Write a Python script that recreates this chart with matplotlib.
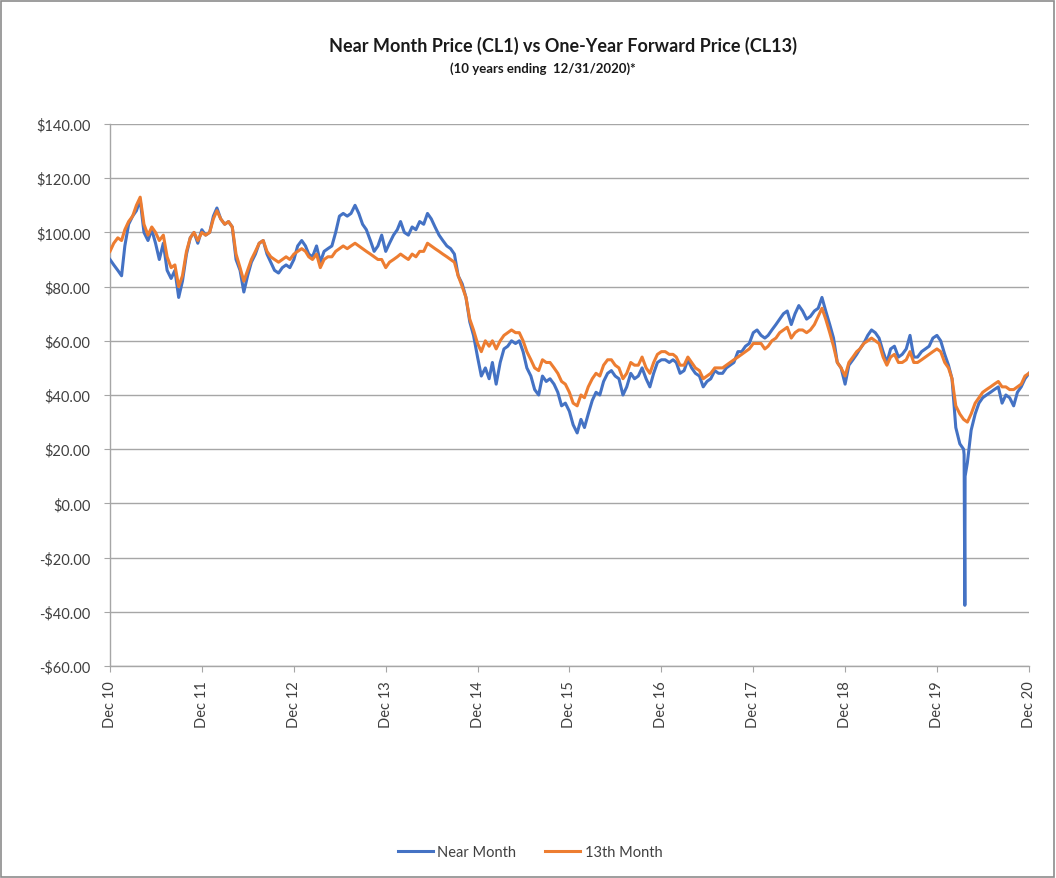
import matplotlib
matplotlib.use("Agg")
import matplotlib.pyplot as plt
from matplotlib.patches import Rectangle
from matplotlib.ticker import FuncFormatter
import pandas as pd

# ---------------- data ----------------
title = "Near Month Price (CL1) vs One-Year Forward Price (CL13)"
subtitle = "(10 years ending  12/31/2020)*"
series_names = ["Near Month", "13th Month"]
start_date = "2010-12-31"
end_date = "2020-12-31"
tick_years = list(range(2010, 2021))
y_ticks = list(range(-60, 141, 20))

# semi-monthly readings (15th and month end), first value = 12/31/2010
near_2010 = [90]
near_2011 = [88, 86, 84, 95, 103, 106, 108, 112, 100, 97, 101, 96, 90, 96, 86, 83, 86, 76, 82, 92, 98, 100, 96, 101]
near_2012 = [99, 100, 106, 109, 105, 103, 104, 102, 90, 86, 78, 84, 89, 92, 96, 97, 92, 89, 86, 85, 87, 88, 87, 90]
near_2013 = [95, 97, 95, 92, 91, 95, 89, 93, 94, 95, 100, 106, 107, 106, 107, 110, 107, 103, 101, 97, 93, 95, 99, 93]
near_2014 = [96, 99, 101, 104, 100, 99, 102, 101, 104, 103, 107, 105, 102, 99, 97, 95, 94, 92, 84, 81, 76, 67, 62, 54]
near_2015 = [47, 50, 46, 52, 44, 52, 57, 58, 60, 59, 60, 56, 50, 47, 42, 40, 47, 45, 46, 44, 41, 36, 37, 34]
near_2016 = [29, 26, 31, 28, 33, 38, 41, 40, 45, 48, 49, 47, 46, 40, 43, 48, 46, 47, 50, 46, 43, 48, 52, 53]
near_2017 = [53, 52, 53, 52, 48, 49, 53, 50, 48, 47, 43, 45, 46, 49, 48, 48, 50, 51, 52, 56, 56, 58, 59, 63]
near_2018 = [64, 62, 61, 62, 64, 66, 68, 70, 71, 66, 70, 73, 71, 68, 69, 71, 72, 76, 71, 66, 61, 52, 50, 44]
near_2019 = [51, 53, 55, 57, 59, 62, 64, 63, 61, 56, 52, 57, 58, 54, 55, 57, 62, 54, 54, 56, 57, 58, 61, 62]
near_2020 = [60, 55, 51, 46, 28, 22, 20, 15, 27, 33, 37, 39, 40, 41, 42, 43, 37, 40, 39, 36, 41, 43, 46, 48]

# April 2020 negative-price episode (daily readings)
spike_dates = ["2020-04-17", "2020-04-20", "2020-04-21"]
spike_near = [18, -37.6, 10]

m13_2010 = [93]
m13_2011 = [96, 98, 97, 101, 104, 106, 110, 113, 103, 99, 102, 100, 97, 99, 91, 87, 88, 80, 84, 93, 98, 100, 97, 100]
m13_2012 = [99, 100, 105, 108, 105, 103, 104, 102, 92, 87, 82, 86, 90, 93, 96, 97, 93, 91, 90, 89, 90, 91, 90, 92]
m13_2013 = [93, 94, 93, 91, 90, 92, 87, 90, 91, 91, 93, 94, 95, 94, 95, 96, 95, 94, 93, 92, 91, 90, 90, 87]
m13_2014 = [89, 90, 91, 92, 91, 90, 92, 91, 93, 93, 96, 95, 94, 93, 92, 91, 90, 89, 84, 80, 76, 68, 64, 59]
m13_2015 = [56, 60, 58, 60, 57, 60, 62, 63, 64, 63, 63, 60, 56, 53, 50, 49, 53, 52, 52, 50, 48, 45, 44, 41]
m13_2016 = [37, 36, 40, 39, 43, 46, 48, 47, 51, 53, 53, 51, 50, 46, 48, 52, 51, 51, 54, 50, 48, 52, 55, 56]
m13_2017 = [56, 55, 55, 54, 51, 51, 54, 52, 50, 49, 46, 47, 48, 50, 50, 50, 51, 52, 53, 54, 55, 56, 57, 59]
m13_2018 = [59, 59, 57, 58, 60, 61, 63, 64, 65, 61, 63, 64, 64, 63, 64, 66, 69, 72, 68, 63, 58, 52, 50, 47]
m13_2019 = [52, 54, 56, 57, 59, 60, 61, 60, 59, 54, 51, 54, 55, 52, 52, 53, 56, 52, 52, 53, 54, 55, 56, 57]
m13_2020 = [56, 52, 50, 46, 36, 33, 31, 30, 33, 37, 39, 41, 42, 43, 44, 45, 43, 43, 42, 42, 43, 44, 47, 48]

# ---------------- assemble ----------------
try:
    dates = pd.date_range(start_date, end_date, freq="SME")
except ValueError:
    dates = pd.date_range(start_date, end_date, freq="SM")

near_vals = (near_2010 + near_2011 + near_2012 + near_2013 + near_2014 + near_2015
             + near_2016 + near_2017 + near_2018 + near_2019 + near_2020)
m13_vals = (m13_2010 + m13_2011 + m13_2012 + m13_2013 + m13_2014 + m13_2015
            + m13_2016 + m13_2017 + m13_2018 + m13_2019 + m13_2020)

near = pd.Series(near_vals, index=dates)
near = pd.concat([near, pd.Series(spike_near, index=pd.to_datetime(spike_dates))]).sort_index()
m13 = pd.Series(m13_vals, index=dates)

# ---------------- figure ----------------
plt.rcParams["font.family"] = ["Lato", "DejaVu Sans"]

fig = plt.figure(figsize=(10.56, 8.79), dpi=100)
fig.patch.set_facecolor("white")
ax = fig.add_axes([110 / 1056, 1 - 667 / 879, (1029 - 110) / 1056, (667 - 125) / 879])

blue = "#4472C4"
orange = "#ED7D31"
ax.plot(near.index, near.values, color=blue, lw=2.2, label=series_names[0], zorder=3)
ax.plot(m13.index, m13.values, color=orange, lw=2.2, label=series_names[1], zorder=4)

ax.set_ylim(-60, 140)
ax.set_yticks(y_ticks)
ax.yaxis.set_major_formatter(FuncFormatter(lambda v, p: f"-${abs(v):.2f}" if v < 0 else f"${v:.2f}"))
ax.set_xlim(pd.Timestamp(start_date), pd.Timestamp(end_date))
xt = [pd.Timestamp(f"{y}-12-31") for y in tick_years]
ax.set_xticks(xt)
ax.set_xticklabels([f"Dec {str(y)[2:]}" for y in tick_years], rotation=90)

ax.grid(axis="y", color="#a6a6a6", lw=1.0)
ax.set_axisbelow(True)
for s in ["top", "right"]:
    ax.spines[s].set_visible(False)
for s in ["left", "bottom"]:
    ax.spines[s].set_color("#a6a6a6")
    ax.spines[s].set_linewidth(1.0)
ax.tick_params(axis="y", length=4, color="#a6a6a6", pad=10, labelsize=10.5, labelcolor="#404040")
ax.tick_params(axis="x", length=4, color="#a6a6a6", pad=6, labelsize=10.5, labelcolor="#404040")

fig.text(563 / 1056, 1 - 46 / 879, title, ha="center", va="center",
         fontsize=13, fontweight="bold", color="#1a1a1a")
fig.text(543 / 1056, 1 - 69 / 879, subtitle, ha="center", va="center",
         fontsize=9.5, fontweight="bold", color="#1a1a1a")

leg = fig.legend(loc="center", bbox_to_anchor=(530 / 1056, 1 - 853 / 879), ncol=2,
                 frameon=False, fontsize=10.5, handlelength=2.4, columnspacing=2.0,
                 handletextpad=0.3)
for t in leg.get_texts():
    t.set_color("#404040")

fig.patches.append(Rectangle((1 / 1056, 1 / 879), 1053 / 1056, 876 / 879,
                             transform=fig.transFigure, fill=False,
                             edgecolor="#8c8c8c", lw=1.2))

fig.savefig("out.png", dpi=100)
